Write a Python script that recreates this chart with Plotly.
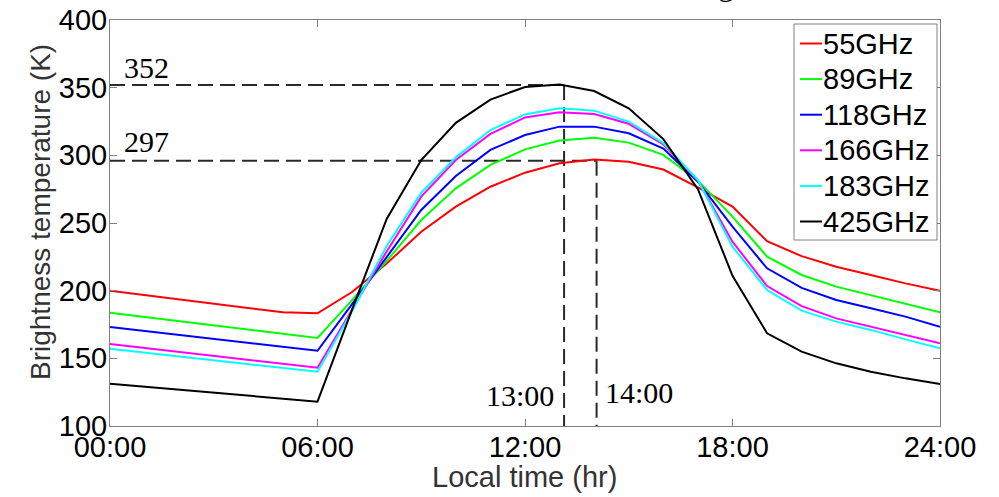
import plotly.graph_objects as go

# ---------------- data ----------------
hours = list(range(0, 25))
series_names = ["55GHz", "89GHz", "118GHz", "166GHz", "183GHz", "425GHz"]
series_colors = ["#ff0000", "#00ff00", "#0000ff", "#ff00ff", "#00ffff", "#000000"]

tb_55 = [200, 196.8, 193.6, 190.4, 187.2, 184, 183.3, 199, 220, 243.6, 262.1, 276.8, 287.2,
         294.1, 297, 295.3, 289.5, 276.4, 262.1, 236.5, 225.5, 217.7, 211.6, 205.4, 200]
tb_89 = [183.7, 180.6, 177.5, 174.3, 171.2, 168, 165, 193, 222, 252.2, 275.6, 292.9, 304.4,
         311, 313, 309.4, 300.3, 281.3, 254.7, 225.1, 211.6, 203, 196.8, 190.6, 184]
tb_118 = [173.1, 170.2, 167.3, 164.4, 161.5, 158.6, 155.6, 190, 225, 259.6, 284.7, 304, 315,
          321.2, 321.2, 316.3, 305, 280.5, 247.3, 216.5, 202, 193.1, 187, 180.8, 173.4]
tb_166 = [160.6, 157.7, 154.8, 151.9, 149, 146, 143.1, 186, 229, 269.5, 296.5, 315.8, 328,
          331.8, 330.5, 323.3, 308, 281.3, 236.2, 203.4, 188.6, 179.5, 173.4, 167.2, 161.1]
tb_183 = [157, 154.2, 151.4, 148.5, 145.7, 142.9, 140.1, 185, 233, 272.4, 298.5, 318.7, 330.2,
          334.7, 333, 324.9, 309, 281.8, 232.5, 200.5, 185.2, 177.1, 171, 164, 157.4]
tb_425 = [131.3, 129.1, 126.9, 124.7, 122.5, 120.3, 118, 186, 253, 296.5, 324, 341.2, 350.5,
          352.3, 347.5, 334.7, 312, 275, 211, 168.5, 154.9, 146.3, 140.1, 135.2, 131]
series_values = [tb_55, tb_89, tb_118, tb_166, tb_183, tb_425]

x_tick_vals = [0, 6, 12, 18, 24]
x_tick_text = ["00:00", "06:00", "12:00", "18:00", "24:00"]
y_tick_vals = [100, 150, 200, 250, 300, 350, 400]

peak_times = [13.13, 14.07]          # dashed vertical markers
peak_levels = [352, 296]             # dashed horizontal markers
peak_level_labels = ["352", "297"]
peak_time_labels = ["13:00", "14:00"]

# ---------------- geometry helpers (pixel -> paper) ----------------
W, H = 999, 497
L, R, T, B = 110, 59, 20, 71
PW, PH = W - L - R, H - T - B


def px(xp):
    return (xp - L) / PW


def py(yp):
    return (H - B - yp) / PH


fig = go.Figure()

# dashed reference lines
dash_style = dict(color="#2a2a2a", width=2, dash="15px,7px")
for t, lev in zip(peak_times, peak_levels):
    fig.add_trace(go.Scatter(x=[0, t], y=[lev, lev], mode="lines", line=dash_style,
                             showlegend=False, hoverinfo="skip"))
    fig.add_trace(go.Scatter(x=[t, t], y=[lev, 100], mode="lines", line=dash_style,
                             showlegend=False, hoverinfo="skip"))

# data series
for name, col, vals in zip(series_names, series_colors, series_values):
    fig.add_trace(go.Scatter(x=hours, y=vals, mode="lines", name=name,
                             line=dict(color=col, width=2), showlegend=False))

SANS = "Liberation Sans, Arial, sans-serif"
SERIF = "Liberation Serif, Times New Roman, serif"

shapes = []
annotations = []

# manual legend (MATLAB style)
shapes.append(dict(type="rect", xref="paper", yref="paper", layer="above",
                   x0=px(794), x1=px(937), y0=py(240), y1=py(24),
                   line=dict(color="#808080", width=1), fillcolor="white"))
for i, (name, col) in enumerate(zip(series_names, series_colors)):
    yc = 43.5 + i * 35.6
    shapes.append(dict(type="line", xref="paper", yref="paper", layer="above",
                       x0=px(800), x1=px(822), y0=py(yc), y1=py(yc),
                       line=dict(color=col, width=2)))
    annotations.append(dict(xref="paper", yref="paper", x=px(821), y=py(yc),
                            xanchor="left", yanchor="middle", showarrow=False,
                            text=name, font=dict(family=SANS, size=29, color="black")))

# labels on the dashed lines
annotations.append(dict(xref="paper", yref="paper", x=px(122), y=py(68), xanchor="left",
                        yanchor="middle", showarrow=False, text=peak_level_labels[0],
                        font=dict(family=SERIF, size=30, color="black")))
annotations.append(dict(xref="paper", yref="paper", x=px(122), y=py(141.5), xanchor="left",
                        yanchor="middle", showarrow=False, text=peak_level_labels[1],
                        font=dict(family=SERIF, size=30, color="black")))
annotations.append(dict(xref="paper", yref="paper", x=px(556), y=py(395), xanchor="right",
                        yanchor="middle", showarrow=False, text=peak_time_labels[0],
                        font=dict(family=SERIF, size=30, color="black")))
annotations.append(dict(xref="paper", yref="paper", x=px(603), y=py(392.5), xanchor="left",
                        yanchor="middle", showarrow=False, text=peak_time_labels[1],
                        font=dict(family=SERIF, size=30, color="black")))

# axis titles
annotations.append(dict(xref="paper", yref="paper", x=px(524.5), y=py(477), xanchor="center",
                        yanchor="middle", showarrow=False, text="Local time (hr)",
                        font=dict(family=SANS, size=29, color="#333333")))
annotations.append(dict(xref="paper", yref="paper", x=px(40), y=py(212), xanchor="center",
                        yanchor="middle", showarrow=False, textangle=-90,
                        text="Brightness temperature (K)",
                        font=dict(family=SANS, size=28, color="#333333")))

# clipped title remnant at the very top
annotations.append(dict(xref="paper", yref="paper", x=px(726), y=py(4), xanchor="center",
                        yanchor="bottom", showarrow=False, text="g",
                        font=dict(family=SERIF, size=32, color="black")))

axis_common = dict(showline=True, linecolor="#808080", linewidth=1, mirror="ticks",
                   ticks="inside", ticklen=7, tickcolor="#808080", tickwidth=1,
                   showgrid=False, zeroline=False, automargin=False,
                   tickfont=dict(family=SANS, size=29, color="black"))

fig.update_layout(
    width=W, height=H,
    margin=dict(l=L, r=R, t=T, b=B, pad=0, autoexpand=False),
    paper_bgcolor="white", plot_bgcolor="white",
    showlegend=False,
    xaxis=dict(range=[0, 24], tickvals=x_tick_vals, ticktext=x_tick_text,
               ticklabelstandoff=-5, **axis_common),
    yaxis=dict(range=[100, 400], tickvals=y_tick_vals, ticklabelstandoff=-4, **axis_common),
    shapes=shapes, annotations=annotations,
)

fig.write_html("out.html")
